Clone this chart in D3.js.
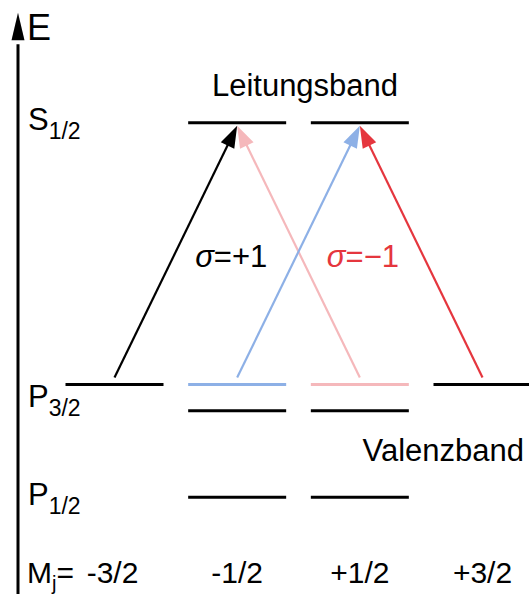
<!DOCTYPE html>
<html>
<head>
<meta charset="utf-8">
<script src="https://cdn.jsdelivr.net/npm/d3@7"></script>
<style>
  body { margin: 0; background: #fff; }
  text { font-family: "Liberation Sans", Arial, sans-serif; }
</style>
</head>
<body>
<div id="diagram"></div>
<script>
// Data
const mjValues = ["-3/2", "-1/2", "+1/2", "+3/2"];
const mjLabels = ["-3/2", "-1/2", "+1/2", "+3/2"];

// energy levels (arbitrary units) and the columns they occupy
const levels = [
  { term: "S", sub: "1/2", energy: 10, mj: ["-1/2", "+1/2"] },
  { term: "P", sub: "3/2", energy: 0, mj: ["-3/2", "-1/2", "+1/2", "+3/2"] },
  { term: "", sub: "", energy: -1, mj: ["-1/2", "+1/2"] },
  { term: "P", sub: "1/2", energy: -4.3, mj: ["-1/2", "+1/2"] }
];
const highlighted = { "-1/2": "#8db0e6", "+1/2": "#f5b8bb" };

// transitions: from P3/2 (mj) to S1/2 (mj)
const transitions = [
  { from: "-3/2", to: "-1/2", color: "#000000" },
  { from: "+1/2", to: "-1/2", color: "#f5b8bb" },
  { from: "-1/2", to: "+1/2", color: "#8db0e6" },
  { from: "+3/2", to: "+1/2", color: "#e5363e" }
];
const sigmaLabels = [
  { text: "=+1", mj: "-1/2", color: "#000000" },
  { text: "=\u22121", mj: "+1/2", color: "#e5363e" }
];

const width = 529;
const height = 594;

const svg = d3.select("#diagram")
  .append("svg")
    .attr("width", width)
    .attr("height", height)
    .attr("viewBox", `0 0 ${width} ${height}`);

// Scales
const xScale = d3.scalePoint()
  .domain(mjValues)
  .range([114.5, 482.5]);

const yScale = d3.scaleLinear()
  .domain([-8, 14.23])
  .range([594, 12]);

const halfLen = 49;
// baseline offset of each term label below its level line
const labelOffset = { 10: 7, 0: 22, "-4.3": 8 };

// Energy axis
const axisX = 18;
svg.append("line")
  .attr("x1", axisX).attr("x2", axisX)
  .attr("y1", height).attr("y2", yScale(13))
  .attr("stroke", "#000")
  .attr("stroke-width", 3);
svg.append("path")
  .attr("d", `M${axisX},${yScale(14.2)} L${axisX - 6.5},${yScale(13.15)} L${axisX + 6.5},${yScale(13.15)} Z`)
  .attr("fill", "#000");
svg.append("text")
  .attr("x", 27).attr("y", 40)
  .attr("font-size", 36)
  .text("E");

// Levels
levels.forEach(level => {
  svg.selectAll(null)
    .data(level.mj)
    .join("line")
      .attr("x1", d => xScale(d) - halfLen)
      .attr("x2", d => xScale(d) + halfLen)
      .attr("y1", yScale(level.energy))
      .attr("y2", yScale(level.energy))
      .attr("stroke", d => (level.energy === 0 && highlighted[d]) ? highlighted[d] : "#000")
      .attr("stroke-width", 3);

  if (level.term) {
    const t = svg.append("text")
      .attr("x", 28)
      .attr("y", yScale(level.energy) + labelOffset[level.energy])
      .attr("font-size", 31);
    t.append("tspan").text(level.term);
    t.append("tspan")
      .attr("font-size", 23)
      .attr("dy", 9)
      .text(level.sub);
  }
});

// Transition arrows
const arrowLen = 22;
const arrowHalf = 7.5;
transitions.forEach(tr => {
  const x1 = xScale(tr.from);
  const y1 = yScale(0) - 7;
  const x2 = xScale(tr.to);
  const y2 = yScale(10) + 3;
  const ang = Math.atan2(y2 - y1, x2 - x1);
  const bx = x2 - arrowLen * Math.cos(ang);
  const by = y2 - arrowLen * Math.sin(ang);
  svg.append("line")
    .attr("x1", x1).attr("y1", y1)
    .attr("x2", bx + 3 * Math.cos(ang)).attr("y2", by + 3 * Math.sin(ang))
    .attr("stroke", tr.color)
    .attr("stroke-width", 2.2);
  const px = -Math.sin(ang) * arrowHalf;
  const py = Math.cos(ang) * arrowHalf;
  svg.append("path")
    .attr("d", `M${x2},${y2} L${bx + px},${by + py} L${bx - px},${by - py} Z`)
    .attr("fill", tr.color);
});

// Sigma labels
sigmaLabels.forEach(s => {
  const t = svg.append("text")
    .attr("x", xScale(s.mj) - 42 + (s.mj === "+1/2" ? 9 : 0))
    .attr("y", 267)
    .attr("font-size", 31)
    .attr("fill", s.color);
  t.append("tspan").attr("font-style", "italic").text("\u03c3");
  t.append("tspan").text(s.text);
});

// Band labels
svg.append("text")
  .attr("x", 305).attr("y", 96)
  .attr("text-anchor", "middle")
  .attr("font-size", 31)
  .text("Leitungsband");
svg.append("text")
  .attr("x", 524).attr("y", 461)
  .attr("text-anchor", "end")
  .attr("font-size", 31)
  .text("Valenzband");

// Mj row
const mjText = svg.append("text")
  .attr("x", 27).attr("y", 583)
  .attr("font-size", 30);
mjText.append("tspan").text("M");
mjText.append("tspan").attr("font-size", 20).attr("dy", 7).text("j");
mjText.append("tspan").attr("dy", -7).text("=");

svg.selectAll(".mj-label")
  .data(mjLabels)
  .join("text")
    .attr("class", "mj-label")
    .attr("x", (d, i) => xScale(mjValues[i]) + (i === 0 ? -2 : 0))
    .attr("y", 583)
    .attr("text-anchor", "middle")
    .attr("font-size", 30)
    .text(d => d);
</script>
</body>
</html>
